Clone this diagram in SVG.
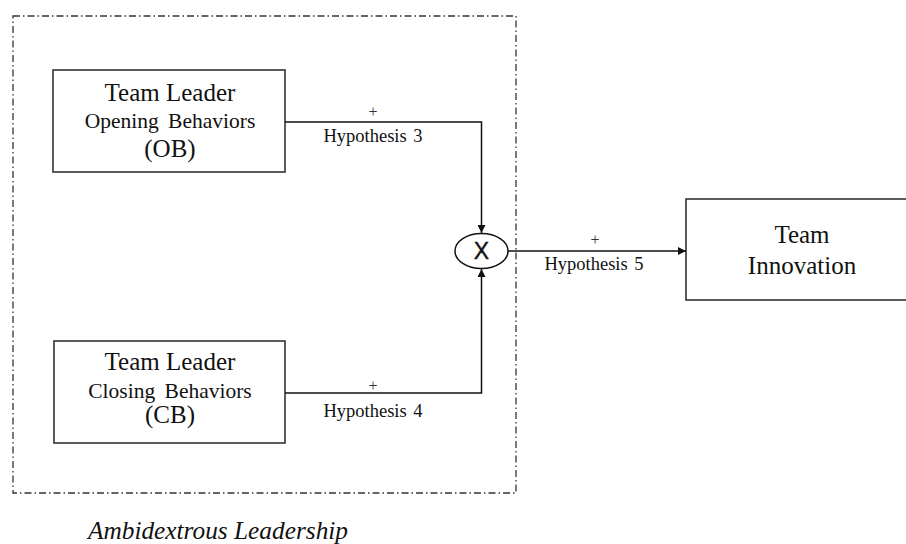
<svg xmlns="http://www.w3.org/2000/svg" width="906" height="544" viewBox="0 0 906 544">
  <style>
    .box { fill: #fff; stroke: #333; stroke-width: 1.6; }
    .frame { fill: none; stroke: #333; stroke-width: 1.3; stroke-dasharray: 7 3 1.5 3; }
    .wire { fill: none; stroke: #111; stroke-width: 1.5; }
    .t { font-family: "Liberation Serif", "Times New Roman", serif; fill: #111; text-anchor: middle; }
    .big { font-size: 25px; }
    .mid { font-size: 21.5px; }
    .lab { font-size: 18.5px; }
    .plus { font-size: 16px; fill: #333; }
    .cap { font-size: 25px; font-style: italic; text-anchor: start; }
    .op { font-family: "Liberation Sans", Arial, sans-serif; font-size: 23px; fill: #111; text-anchor: middle; stroke: #111; stroke-width: 0.4; }
  </style>
  <defs>
    <marker id="arrow" viewBox="0 0 10 10" refX="10" refY="5" markerWidth="9" markerHeight="8" markerUnits="userSpaceOnUse" orient="auto">
      <path d="M0,0 L10,5 L0,10 z" fill="#111"/>
    </marker>
  </defs>

  <rect width="906" height="544" fill="#fff"/>

  <!-- dash-dot boundary around the leadership constructs -->
  <g id="ambidextrous-leadership">
    <rect class="frame" x="13" y="16" width="503" height="477"/>
    <text class="t cap" x="88" y="539" textLength="260" lengthAdjust="spacingAndGlyphs">Ambidextrous Leadership</text>
  </g>

  <g id="opening-behaviors">
    <rect class="box" x="53" y="70" width="232" height="102"/>
    <text class="t big" x="170" y="101">Team Leader</text>
    <text class="t mid" x="170" y="128"><tspan>Opening </tspan><tspan dx="4">Behaviors</tspan></text>
    <text class="t big" x="170" y="157">(OB)</text>
  </g>

  <g id="closing-behaviors">
    <rect class="box" x="54" y="341" width="231" height="102"/>
    <text class="t big" x="170" y="370">Team Leader</text>
    <text class="t mid" x="170" y="398"><tspan>Closing </tspan><tspan dx="4">Behaviors</tspan></text>
    <text class="t big" x="170" y="423">(CB)</text>
  </g>

  <g id="interaction">
    <ellipse cx="481.5" cy="251" rx="26.5" ry="17.5" fill="#fff" stroke="#111" stroke-width="1.5"/>
    <text class="op" x="481.5" y="259">X</text>
  </g>

  <g id="team-innovation">
    <rect class="box" x="686" y="199" width="232" height="101"/>
    <text class="t big" x="802" y="243">Team</text>
    <text class="t big" x="802" y="274">Innovation</text>
  </g>

  <g id="connectors">
    <polyline class="wire" points="285,122 481.5,122 481.5,233" marker-end="url(#arrow)"/>
    <polyline class="wire" points="285,393 481.5,393 481.5,269" marker-end="url(#arrow)"/>
    <line class="wire" x1="508" y1="251" x2="686" y2="251" marker-end="url(#arrow)"/>

    <text class="t plus" x="373" y="117">+</text>
    <text class="t lab" x="373" y="142"><tspan>Hypothesis </tspan><tspan dx="2">3</tspan></text>

    <text class="t plus" x="373" y="391">+</text>
    <text class="t lab" x="373" y="417"><tspan>Hypothesis </tspan><tspan dx="2">4</tspan></text>

    <text class="t plus" x="595" y="245">+</text>
    <text class="t lab" x="594" y="270"><tspan>Hypothesis </tspan><tspan dx="2">5</tspan></text>
  </g>
</svg>
